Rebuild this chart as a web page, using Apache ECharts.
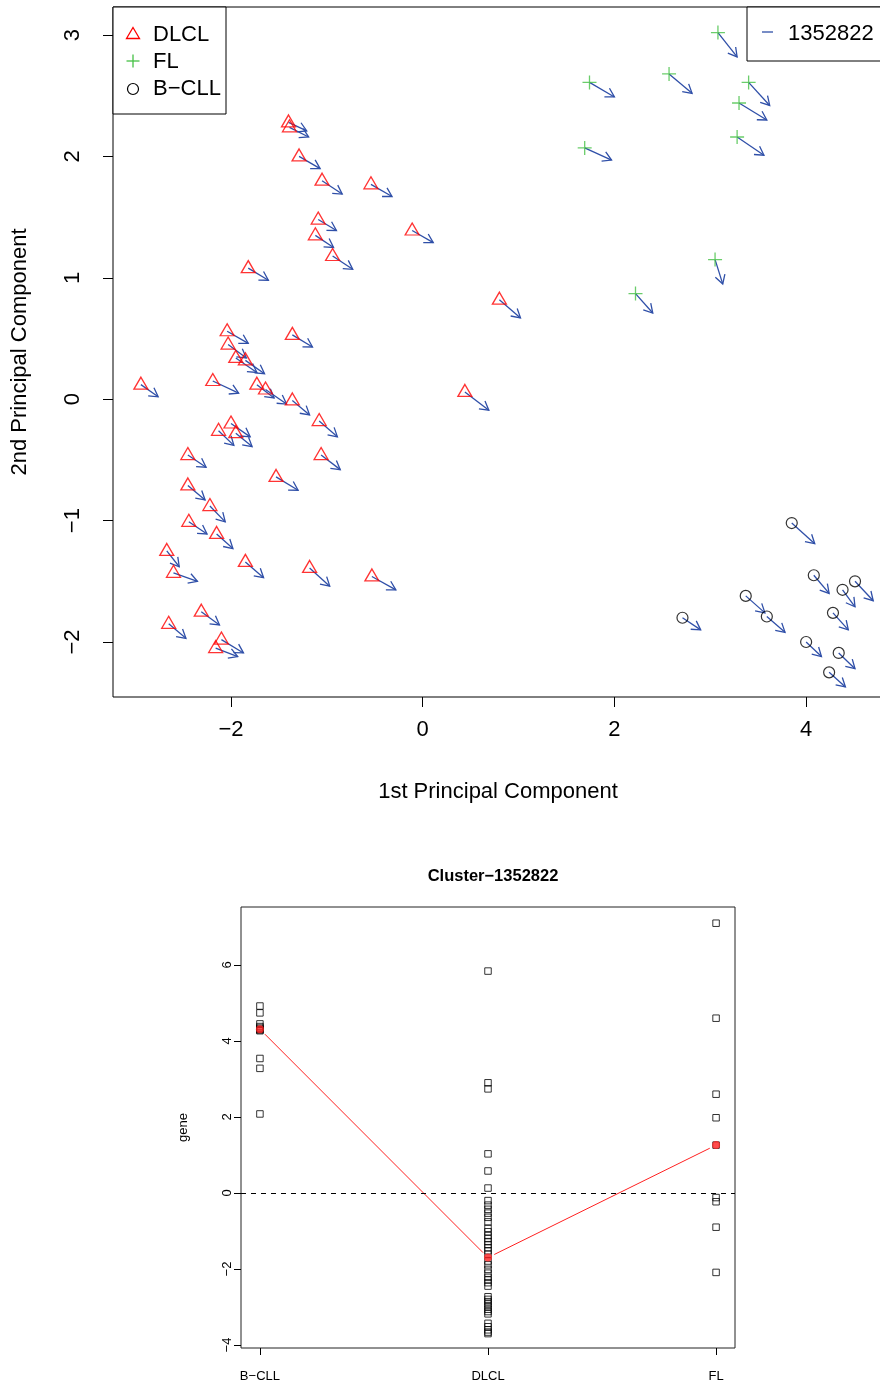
<!DOCTYPE html>
<html>
<head>
<meta charset="UTF-8">
<title></title>
<script src="https://cdn.jsdelivr.net/npm/echarts@6/dist/echarts.min.js"></script>
<style type="text/css">
	html, body { margin: 0; padding: 0; background: #fff; }
</style>
</head>
<body>
<div id="box" style="width:880px;height:1385px;"></div>
<script type="text/javascript">
// PCA scores, [PC1, PC2]
var dlclPoints = [[-1.40,2.28],[-1.39,2.24],[-1.29,2.00],[-1.05,1.80],[-0.54,1.77],[-1.09,1.48],[-1.12,1.35],
	[-0.94,1.18],[-1.82,1.08],[-0.11,1.39],[0.80,0.82],[-2.04,0.56],[-1.36,0.53],[-2.03,0.45],[-1.95,0.34],
	[-1.85,0.32],[-2.94,0.12],[-2.19,0.15],[-1.73,0.12],[-1.64,0.08],[-1.36,-0.01],[0.44,0.06],[-1.08,-0.18],
	[-2.00,-0.20],[-2.13,-0.26],[-1.95,-0.28],[-2.45,-0.46],[-1.06,-0.46],[-1.53,-0.64],[-2.45,-0.71],
	[-2.22,-0.88],[-2.44,-1.01],[-2.15,-1.11],[-2.67,-1.25],[-1.85,-1.34],[-1.18,-1.39],[-2.60,-1.43],
	[-0.53,-1.46],[-2.31,-1.75],[-2.65,-1.85],[-2.10,-1.98],[-2.16,-2.05]];
var flPoints = [[3.08,3.02],[1.74,2.61],[2.57,2.68],[3.40,2.61],[3.30,2.44],[3.28,2.16],[1.69,2.07],
	[3.05,1.15],[2.22,0.87]];
var bcllPoints = [[3.85,-1.02],[4.08,-1.45],[4.51,-1.50],[4.38,-1.57],[3.37,-1.62],[3.59,-1.79],
	[2.71,-1.80],[4.28,-1.76],[4.00,-2.00],[4.34,-2.09],[4.24,-2.25]];

// arrow for gene 1352822, [dx, dy] from each sample
var dlclArrows = [[0.19,-0.07],[0.20,-0.08],[0.22,-0.10],[0.21,-0.11],[0.22,-0.10],[0.19,-0.09],[0.19,-0.10],
	[0.21,-0.11],[0.21,-0.10],[0.22,-0.10],[0.22,-0.15],[0.22,-0.10],[0.21,-0.10],[0.19,-0.11],[0.22,-0.12],
	[0.20,-0.11],[0.18,-0.10],[0.27,-0.10],[0.18,-0.11],[0.22,-0.12],[0.18,-0.12],[0.25,-0.15],[0.19,-0.13],
	[0.20,-0.11],[0.16,-0.12],[0.17,-0.11],[0.19,-0.10],[0.20,-0.12],[0.23,-0.11],[0.18,-0.12],
	[0.16,-0.13],[0.19,-0.10],[0.17,-0.12],[0.13,-0.13],[0.19,-0.13],[0.21,-0.15],[0.25,-0.07],
	[0.25,-0.11],[0.19,-0.11],[0.18,-0.12],[0.23,-0.11],[0.23,-0.07]];
var flArrows = [[0.20,-0.20],[0.26,-0.12],[0.24,-0.16],[0.22,-0.19],[0.29,-0.14],[0.28,-0.15],[0.28,-0.10],
	[0.08,-0.20],[0.18,-0.16]];
var bcllArrows = [[0.24,-0.17],[0.16,-0.15],[0.19,-0.16],[0.13,-0.14],[0.20,-0.14],[0.19,-0.13],
	[0.19,-0.10],[0.16,-0.14],[0.16,-0.12],[0.17,-0.13],[0.17,-0.12]];

// cluster plot
var groups = ['B\u2212CLL', 'DLCL', 'FL'];
var bcllGene = [4.92, 4.74, 4.45, 4.38, 4.34, 4.31, 4.29, 4.27, 3.54, 3.28, 2.08];
var dlclGene = [5.84, 2.90, 2.74, 1.03, 0.58, 0.13, -0.20, -0.32, -0.43, -0.53, -0.64, -0.76, -0.93, -1.02,
	-1.12, -1.20, -1.28, -1.36, -1.44, -1.52, -1.61, -1.79, -1.89, -2.01, -2.11, -2.22, -2.29, -2.36, -2.45,
	-2.73, -2.80, -2.86, -2.92, -2.99, -3.06, -3.12, -3.18, -3.43, -3.52, -3.60, -3.66, -3.70];
var flGene = [7.10, 4.60, 2.60, 1.98, 1.26, -0.12, -0.23, -0.90, -2.09];

var pcXTicks = [-2, 0, 2, 4];
var pcYTicks = [-2, -1, 0, 1, 2, 3];
var geneXTicks = [1, 2, 3];
var geneYTicks = [-4, -2, 0, 2, 4, 6];

var FONT = 'Liberation Sans, Arial, Helvetica, sans-serif';
var ARROW = '#2f4fa8';

function minus(v) { return String(v).replace('-', '\u2212'); }
function median(a) {
	var s = a.slice().sort(function (p, q) { return p - q; });
	var n = s.length;
	return n % 2 ? s[(n - 1) / 2] : (s[n / 2 - 1] + s[n / 2]) / 2;
}

var arrowData = [];
[[dlclPoints, dlclArrows], [flPoints, flArrows], [bcllPoints, bcllArrows]].forEach(function (g) {
	g[0].forEach(function (p, i) {
		arrowData.push([p[0], p[1], g[1][i][0], g[1][i][1]]);
	});
});

function renderArrow(params, api) {
	var x = api.value(0), y = api.value(1);
	var p0 = api.coord([x, y]);
	var p1 = api.coord([x + api.value(2), y + api.value(3)]);
	var ang = Math.atan2(p1[1] - p0[1], p1[0] - p0[0]);
	var L = 10, a = Math.PI / 6;
	var h1 = [p1[0] - L * Math.cos(ang - a), p1[1] - L * Math.sin(ang - a)];
	var h2 = [p1[0] - L * Math.cos(ang + a), p1[1] - L * Math.sin(ang + a)];
	return {
		type: 'group',
		children: [
			{ type: 'line', shape: { x1: p0[0], y1: p0[1], x2: p1[0], y2: p1[1] },
				style: { stroke: ARROW, lineWidth: 1.3 } },
			{ type: 'polyline', shape: { points: [h1, p1, h2] },
				style: { stroke: ARROW, fill: null, lineWidth: 1.3 } }
		]
	};
}

var medians = [median(bcllGene), median(dlclGene), median(flGene)];
var medianSegs = [];
for (var i = 0; i < medians.length - 1; i++) {
	medianSegs.push([i + 1, medians[i], i + 2, medians[i + 1]]);
}

// R type="b": segments stop short of the points
function renderSeg(params, api) {
	var p0 = api.coord([api.value(0), api.value(1)]);
	var p1 = api.coord([api.value(2), api.value(3)]);
	var dx = p1[0] - p0[0], dy = p1[1] - p0[1];
	var len = Math.sqrt(dx * dx + dy * dy), g = 7 / len;
	return {
		type: 'line',
		shape: { x1: p0[0] + dx * g, y1: p0[1] + dy * g, x2: p1[0] - dx * g, y2: p1[1] - dy * g },
		style: { stroke: '#ff2020', lineWidth: 1 }
	};
}

function groupData(vals, pos) {
	return vals.map(function (v) { return [pos, v]; });
}

var squareStyle = { color: 'transparent', borderColor: '#000', borderWidth: 1 };

var myChart = echarts.init(document.getElementById('box'));

var option = {
	animation: false,
	textStyle: { fontFamily: FONT },
	title: {
		text: 'Cluster\u22121352822',
		left: 488, top: 863, textAlign: 'center',
		textStyle: { fontFamily: FONT, fontSize: 16.5, fontWeight: 'bold', color: '#000' }
	},
	grid: [
		{ left: 113, top: 7, width: 770, height: 690, show: true, borderColor: '#000', borderWidth: 1,
			backgroundColor: 'transparent', outerBoundsMode: 'none' },
		{ left: 241, top: 907, width: 494, height: 441, show: true, borderColor: '#222', borderWidth: 1,
			backgroundColor: 'transparent', outerBoundsMode: 'none' }
	],
	xAxis: [
		{
			type: 'value', gridIndex: 0, min: -3.231, max: 4.802,
			axisLine: { show: false, onZero: false },
			axisTick: { show: true, length: 10, customValues: pcXTicks, lineStyle: { color: '#000' } },
			axisLabel: { customValues: pcXTicks, fontSize: 22, color: '#000', margin: 22, formatter: minus },
			splitLine: { show: false },
			name: '1st Principal Component', nameLocation: 'middle', nameGap: 84,
			nameTextStyle: { fontSize: 22, color: '#000' }
		},
		{
			type: 'value', gridIndex: 1, min: 0.917, max: 3.083,
			axisLine: { show: false, onZero: false },
			axisTick: { show: true, length: 7, customValues: geneXTicks, lineStyle: { color: '#000' } },
			axisLabel: { customValues: geneXTicks, fontSize: 13, color: '#000', margin: 22,
				formatter: function (v) { return groups[Math.round(v) - 1]; } },
			splitLine: { show: false }
		}
	],
	yAxis: [
		{
			type: 'value', gridIndex: 0, min: -2.453, max: 3.231,
			axisLine: { show: false, onZero: false },
			axisTick: { show: true, length: 10, customValues: pcYTicks, lineStyle: { color: '#000' } },
			axisLabel: { customValues: pcYTicks, fontSize: 22, color: '#000', margin: 29, rotate: 90,
				formatter: minus },
			splitLine: { show: false },
			name: '2nd Principal Component', nameLocation: 'middle', nameGap: 82,
			nameTextStyle: { fontSize: 22, color: '#000' }
		},
		{
			type: 'value', gridIndex: 1, min: -4.079, max: 7.526,
			axisLine: { show: false, onZero: false },
			axisTick: { show: true, length: 7, customValues: geneYTicks, lineStyle: { color: '#000' } },
			axisLabel: { customValues: geneYTicks, fontSize: 13, color: '#000', margin: 7, rotate: 90,
				formatter: minus },
			splitLine: { show: false },
			name: 'gene', nameLocation: 'middle', nameGap: 51,
			nameTextStyle: { fontSize: 13, color: '#000' }
		}
	],
	graphic: [
		{ type: 'rect', shape: { x: 113, y: 7, width: 113, height: 107 }, z: 100,
			style: { fill: '#fff', stroke: '#000', lineWidth: 1 } },
		{ type: 'polygon', shape: { points: [[133, 27.5], [139.5, 38.5], [126.5, 38.5]] }, z: 101,
			style: { fill: null, stroke: '#ff0000', lineWidth: 1.3 } },
		{ type: 'polyline', shape: { points: [[126.5, 61], [139.5, 61]] }, z: 101,
			style: { stroke: '#45c045', lineWidth: 1.3 } },
		{ type: 'polyline', shape: { points: [[133, 54.5], [133, 67.5]] }, z: 101,
			style: { stroke: '#45c045', lineWidth: 1.3 } },
		{ type: 'circle', shape: { cx: 133, cy: 89, r: 5.5 }, z: 101,
			style: { fill: null, stroke: '#000', lineWidth: 1.2 } },
		{ type: 'text', x: 153, y: 35, z: 101,
			style: { text: 'DLCL', font: '22px ' + FONT, fill: '#000', verticalAlign: 'middle' } },
		{ type: 'text', x: 153, y: 62, z: 101,
			style: { text: 'FL', font: '22px ' + FONT, fill: '#000', verticalAlign: 'middle' } },
		{ type: 'text', x: 153, y: 89, z: 101,
			style: { text: 'B\u2212CLL', font: '22px ' + FONT, fill: '#000', verticalAlign: 'middle' } },
		{ type: 'rect', shape: { x: 747, y: 7, width: 150, height: 54 }, z: 100,
			style: { fill: '#fff', stroke: '#000', lineWidth: 1 } },
		{ type: 'polyline', shape: { points: [[762, 32], [773, 32]] }, z: 101,
			style: { stroke: ARROW, lineWidth: 1.3 } },
		{ type: 'text', x: 788, y: 34, z: 101,
			style: { text: '1352822', font: '22px ' + FONT, fill: '#000', verticalAlign: 'middle' } }
	],
	series: [
		{
			name: 'DLCL', type: 'scatter', xAxisIndex: 0, yAxisIndex: 0, silent: true,
			symbol: 'triangle', symbolSize: [14, 12], symbolOffset: [0, -1.5],
			itemStyle: { color: 'transparent', borderColor: '#ff0000', borderWidth: 1.3 },
			data: dlclPoints
		},
		{
			name: 'FL', type: 'scatter', xAxisIndex: 0, yAxisIndex: 0, silent: true,
			symbol: 'path://M0,6.5L13,6.5M6.5,0L6.5,13', symbolSize: 14,
			itemStyle: { color: 'transparent', borderColor: '#45c045', borderWidth: 1.3 },
			data: flPoints
		},
		{
			name: 'B-CLL', type: 'scatter', xAxisIndex: 0, yAxisIndex: 0, silent: true,
			symbol: 'circle', symbolSize: 11,
			itemStyle: { color: 'transparent', borderColor: '#000', borderWidth: 1.2 },
			data: bcllPoints
		},
		{
			name: 'arrows', type: 'custom', xAxisIndex: 0, yAxisIndex: 0, silent: true, clip: false,
			renderItem: renderArrow, encode: { x: 0, y: 1 },
			data: arrowData
		},
		{
			type: 'scatter', xAxisIndex: 1, yAxisIndex: 1, silent: true,
			symbol: 'rect', symbolSize: 6.5, itemStyle: squareStyle,
			data: groupData(bcllGene, 1),
			markLine: {
				silent: true, symbol: 'none', label: { show: false },
				lineStyle: { color: '#000', type: [5, 5], width: 1 },
				data: [{ yAxis: 0 }]
			}
		},
		{
			type: 'scatter', xAxisIndex: 1, yAxisIndex: 1, silent: true,
			symbol: 'rect', symbolSize: 6.5, itemStyle: squareStyle,
			data: groupData(dlclGene, 2)
		},
		{
			type: 'scatter', xAxisIndex: 1, yAxisIndex: 1, silent: true,
			symbol: 'rect', symbolSize: 6.5, itemStyle: squareStyle,
			data: groupData(flGene, 3)
		},
		{
			type: 'custom', xAxisIndex: 1, yAxisIndex: 1, silent: true,
			renderItem: renderSeg, encode: { x: 0, y: 1 },
			data: medianSegs
		},
		{
			type: 'scatter', xAxisIndex: 1, yAxisIndex: 1, silent: true,
			symbol: 'circle', symbolSize: 8, itemStyle: { color: '#ff2020' },
			data: medians.map(function (m, i) { return [i + 1, m]; })
		}
	]
};
myChart.setOption(option);
</script>
</body>
</html>
